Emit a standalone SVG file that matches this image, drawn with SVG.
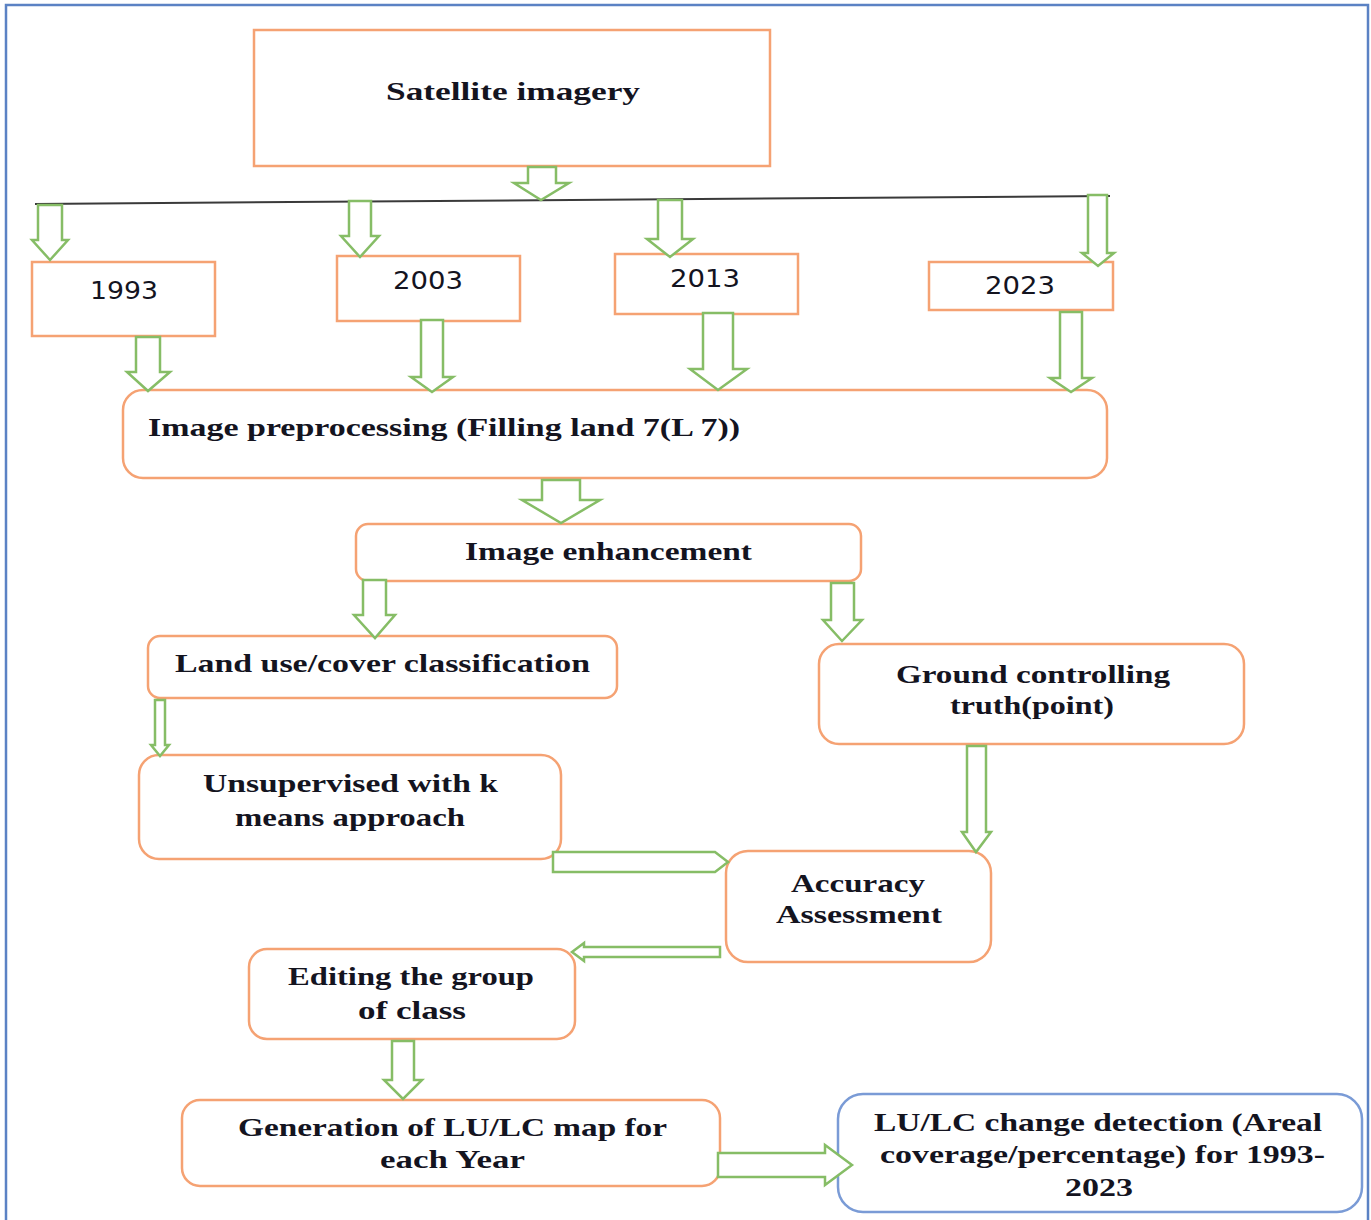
<svg xmlns="http://www.w3.org/2000/svg" width="1371" height="1220" viewBox="0 0 1371 1220">
<style>
.box{fill:#fff;stroke:#f5a273;stroke-width:2.5}
.blue{fill:#fff;stroke:#7a9bd6;stroke-width:2.5}
.arr{fill:#fff;stroke:#86bd66;stroke-width:2.5;stroke-linejoin:miter}
.t{font-family:"Liberation Serif",serif;font-weight:bold;font-size:25px;fill:#14141f;text-anchor:start}
.y{font-family:"DejaVu Sans",sans-serif;font-size:24px;fill:#14141f}
</style>
<rect x="6" y="5" width="1362" height="1240" fill="#fff" stroke="#5b82c4" stroke-width="2.5"/>
<g id="satellite"><rect class="box" x="254" y="30" width="516" height="136"/><text class="t" x="386" y="100" textLength="254" lengthAdjust="spacingAndGlyphs">Satellite imagery</text></g>
<g id="y1993"><rect class="box" x="32" y="262" width="183" height="74"/><text class="y" x="90" y="299" textLength="68" lengthAdjust="spacingAndGlyphs">1993</text></g>
<g id="y2003"><rect class="box" x="337" y="256" width="183" height="65"/><text class="y" x="393" y="289" textLength="70" lengthAdjust="spacingAndGlyphs">2003</text></g>
<g id="y2013"><rect class="box" x="615" y="254" width="183" height="60"/><text class="y" x="670" y="287" textLength="70" lengthAdjust="spacingAndGlyphs">2013</text></g>
<g id="y2023"><rect class="box" x="929" y="262" width="184" height="48"/><text class="y" x="985" y="294" textLength="70" lengthAdjust="spacingAndGlyphs">2023</text></g>
<g id="preprocessing"><rect class="box" x="123" y="390" width="984" height="88" rx="20"/><text class="t" x="148" y="436" textLength="592" lengthAdjust="spacingAndGlyphs">Image preprocessing (Filling land 7(L 7))</text></g>
<g id="enhancement"><rect class="box" x="356" y="524" width="505" height="57" rx="12"/><text class="t" x="465" y="560" textLength="287" lengthAdjust="spacingAndGlyphs">Image enhancement</text></g>
<g id="classification"><rect class="box" x="148" y="636" width="469" height="62" rx="12"/><text class="t" x="175" y="672" textLength="415" lengthAdjust="spacingAndGlyphs">Land use/cover classification</text></g>
<g id="ground"><rect class="box" x="819" y="644" width="425" height="100" rx="20"/><text class="t" x="896" y="683" textLength="274" lengthAdjust="spacingAndGlyphs">Ground controlling</text><text class="t" x="950" y="714" textLength="164" lengthAdjust="spacingAndGlyphs">truth(point)</text></g>
<g id="unsupervised"><rect class="box" x="139" y="755" width="422" height="104" rx="20"/><text class="t" x="203" y="792" textLength="295" lengthAdjust="spacingAndGlyphs">Unsupervised with k</text><text class="t" x="235" y="826" textLength="230" lengthAdjust="spacingAndGlyphs">means approach</text></g>
<g id="accuracy"><rect class="box" x="726" y="851" width="265" height="111" rx="22"/><text class="t" x="791" y="892" textLength="134" lengthAdjust="spacingAndGlyphs">Accuracy</text><text class="t" x="776" y="923" textLength="166" lengthAdjust="spacingAndGlyphs">Assessment</text></g>
<g id="editing"><rect class="box" x="249" y="949" width="326" height="90" rx="18"/><text class="t" x="288" y="985" textLength="246" lengthAdjust="spacingAndGlyphs">Editing the group</text><text class="t" x="358" y="1019" textLength="108" lengthAdjust="spacingAndGlyphs">of class</text></g>
<g id="generation"><rect class="box" x="182" y="1100" width="538" height="86" rx="18"/><text class="t" x="238" y="1136" textLength="429" lengthAdjust="spacingAndGlyphs">Generation of LU/LC map for</text><text class="t" x="380" y="1168" textLength="145" lengthAdjust="spacingAndGlyphs">each Year</text></g>
<g id="change"><rect class="blue" x="838" y="1094" width="524" height="118" rx="25"/><text class="t" x="874" y="1131" textLength="448" lengthAdjust="spacingAndGlyphs">LU/LC change detection (Areal</text><text class="t" x="880" y="1163" textLength="445" lengthAdjust="spacingAndGlyphs">coverage/percentage) for 1993-</text><text class="t" x="1065" y="1196" textLength="68" lengthAdjust="spacingAndGlyphs">2023</text></g>
<g id="connectors">
<line x1="35" y1="204" x2="1110" y2="196" stroke="#3a3a3a" stroke-width="2"/>
<path class="arr" d="M528 167H556V183H569L541 200L514 183H528Z"/>
<path class="arr" d="M38 205H62V240H68L50 260L32 240H38Z"/>
<path class="arr" d="M349 201H371V236H379L360 257L341 236H349Z"/>
<path class="arr" d="M658 200H682V239H693L670 257L647 239H658Z"/>
<path class="arr" d="M1088 195H1107V253H1114L1098 266L1082 253H1088Z"/>
<path class="arr" d="M136 337H160V372H170L148 391L127 372H136Z"/>
<path class="arr" d="M421 320H443V377H453L432 392L411 377H421Z"/>
<path class="arr" d="M703 313H733V369H747L718 390L690 369H703Z"/>
<path class="arr" d="M1060 312H1082V378H1092L1071 392L1050 378H1060Z"/>
<path class="arr" d="M542 480H580V500H600L561 523L522 500H542Z"/>
<path class="arr" d="M363 580H386V615H395L375 638L354 615H363Z"/>
<path class="arr" d="M831 583H854V620H862L842 641L823 620H831Z"/>
<path class="arr" d="M155 700H165V745H169L160 756L151 745H155Z"/>
<path class="arr" d="M967 746H986V832H991L976 852L962 832H967Z"/>
<path class="arr" d="M392 1041H414V1080H422L403 1099L384 1080H392Z"/>
<path class="arr" d="M553 852H715L728 862L715 872H553Z"/>
<path class="arr" d="M720 947V957H584V961L572 952L584 943V947Z"/>
<path class="arr" d="M718 1153H825V1145L852 1165L825 1185V1177H718Z"/>
</g>
</svg>
